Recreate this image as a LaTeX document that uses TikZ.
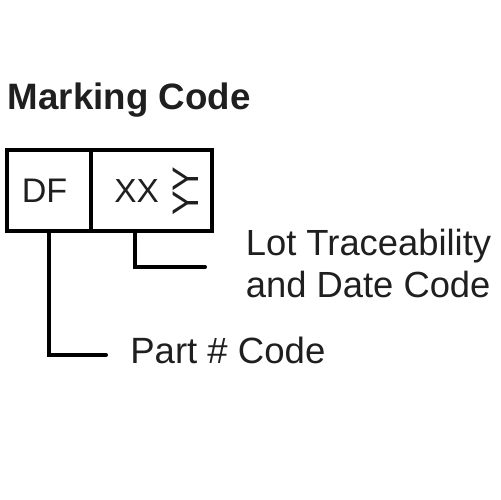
\documentclass[tikz,border=0pt]{standalone}
\usepackage{fontspec}
\setmainfont{Liberation Sans}
\begin{document}
\begin{tikzpicture}[x=0.02cm,y=-0.02cm,
  boxpart/.style={draw,line width=2.3pt,minimum height=1.62cm,inner sep=0pt,outer sep=0pt},
  lead/.style={line width=2.3pt,line cap=round},
  txt/.style={anchor=base west,inner sep=0pt,text=black!88}]
\useasboundingbox (0,0) rectangle (500,500);
\node[txt,font=\bfseries\fontsize{20.9}{24}\selectfont] (title) at (7.5,110) {Marking Code};
\node[boxpart,minimum width=1.68cm] (df) at (49,190.5) {};
\node[boxpart,minimum width=2.42cm] (xx) at (151.5,190.5) {};
\node[txt,font=\fontsize{19.4}{22}\selectfont] (dft) at (21.5,202) {DF};
\node[txt,font=\fontsize{19}{22}\selectfont] (xxt) at (114,202) {XX};
\node[inner sep=0pt,rotate=90,font=\fontsize{21}{22}\selectfont,text=black!88] (yy) at (186,191) {YY};
\node[txt,font=\fontsize{20.7}{23.9}\selectfont,align=left] (lot) at (245.5,297) {Lot Traceability\\and Date Code};
\node[txt,font=\fontsize{20.8}{24}\selectfont] (part) at (130,363) {Part \# Code};
\coordinate (pend) at (106,355);
\coordinate (lend) at (205,267);
\draw[lead] (df.south) |- (pend);
\draw[lead] ([xshift=-0.33cm]xx.south) |- (lend);
\end{tikzpicture}
\end{document}
